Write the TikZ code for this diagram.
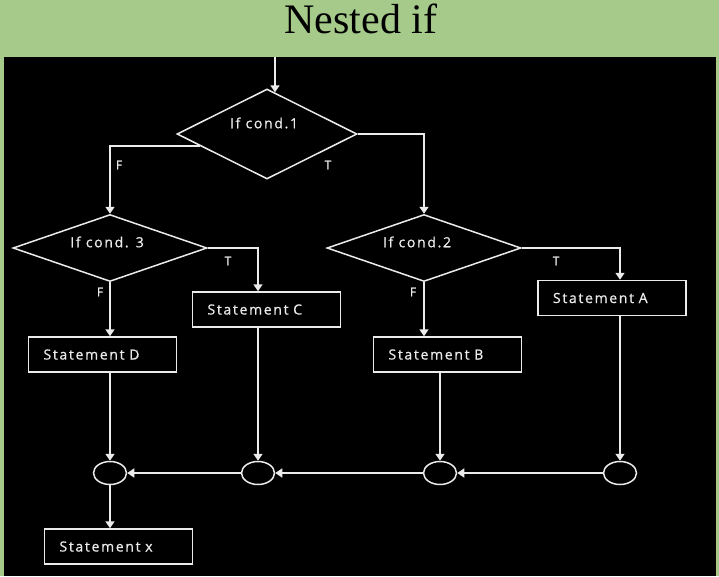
\documentclass[tikz,border=0pt]{standalone}
\usepackage{fontspec}
\setmainfont{Liberation Serif}
\newfontfamily\flowfont[LetterSpace=12, FakeBold=0.8]{Open Sans}
\usetikzlibrary{shapes.geometric}
\usetikzlibrary{arrows.meta}

\definecolor{slidegreen}{RGB}{166,202,138}
\definecolor{linegray}{RGB}{235,235,235}

\begin{document}
\begin{tikzpicture}[x=1pt, y=-1pt,
    every node/.style={text=linegray, font=\flowfont\fontsize{14}{16}\selectfont},
    decision/.style={diamond, draw=linegray, line width=1.5pt, inner sep=0pt},
    stmt/.style={rectangle, draw=linegray, line width=1.5pt, minimum height=35pt,
      text width=118pt, inner xsep=15pt, align=left},
    junction/.style={ellipse, draw=linegray, line width=1.5pt, minimum width=33pt,
      minimum height=23pt, inner sep=0pt},
    flow/.style={draw=linegray, line width=1.5pt, -{Triangle[width=9pt,length=7pt]}},
    branch/.style={font=\flowfont\fontsize{12}{14}\selectfont}]
    % slide background
    \fill[slidegreen] (0,0) rectangle (719,576);
    \fill[black] (4,57) rectangle (716,576);
    \node[anchor=base, text=black, font=\rmfamily\fontsize{42}{48}\selectfont] (title) at (361,33) {Nested if};
    % decisions
    \node[decision, minimum width=180pt, minimum height=90pt] (c1) at (267,134) {} ; %
    \node[decision, minimum width=194pt, minimum height=67pt] (c3) at (110,248) {} ; %
    \node[decision, minimum width=194pt, minimum height=67pt] (c2) at (424,248) {} ; %
    \node (c1txt) at ([xshift=-3pt, yshift=11pt]c1.center) {If cond.1} ; %
    \node (c3txt) at ([xshift=-3pt, yshift=6pt]c3.center) {If cond. 3} ; %
    \node (c2txt) at ([xshift=-7pt, yshift=6pt]c2.center) {If cond.2} ; %
    % statements
    \node[stmt] (sc) at (266.5,309.5) {Statement C} ; %
    \node[stmt] (sd) at (102.5,354.5) {Statement D} ; %
    \node[stmt] (sb) at (447.5,354.5) {Statement B} ; %
    \node[stmt] (sa) at (612,298) {Statement A} ; %
    \node[stmt] (sx) at (118.5,546.5) {Statement x} ; %
    % junctions
    \node[junction] (jd) at (110,473) {} ; %
    \node[junction] (jc) at (258,473) {} ; %
    \node[junction] (jb) at (440,473) {} ; %
    \node[junction] (ja) at (620,473) {} ; %
    % branch labels
    \node[branch] (f1) at (119,165) {F} ; %
    \node[branch] (t1) at (328,165) {T} ; %
    \node[branch] (t3) at (228,261) {T} ; %
    \node[branch] (f3) at (100,292) {F} ; %
    \node[branch] (t2) at (556,261) {T} ; %
    \node[branch] (f2) at (413,292) {F} ; %
    % connectors
    \coordinate (entry) at (275,57);
    \draw[flow] (entry) -- (entry |- c1.79);
    \draw[flow] (c1.190) -| (c3.north);
    \draw[flow] (c1.east) -| (c2.north);
    \draw[flow] (c3.east) -| (jc |- sc.north);
    \draw[flow] (c3.south) -- (c3.south |- sd.north);
    \draw[flow] (c2.east) -| (ja |- sa.north);
    \draw[flow] (c2.south) -- (c2.south |- sb.north);
    \draw[flow] (jd |- sd.south) -- (jd);
    \draw[flow] (jc |- sc.south) -- (jc);
    \draw[flow] (jb |- sb.south) -- (jb);
    \draw[flow] (ja |- sa.south) -- (ja);
    \draw[flow] (ja) -- (jb);
    \draw[flow] (jb) -- (jc);
    \draw[flow] (jc) -- (jd);
    \draw[flow] (jd) -- (jd |- sx.north);
\end{tikzpicture}
\end{document}
